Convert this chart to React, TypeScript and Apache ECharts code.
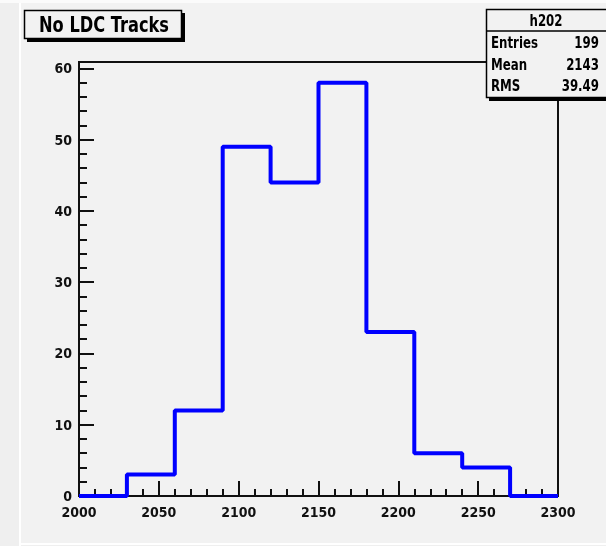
import React, { useEffect, useRef } from "react";
import * as echarts from "echarts";

// Histogram h202: bin lower edges and bin contents
const binLowEdges = [2000, 2030, 2060, 2090, 2120, 2150, 2180, 2210, 2240, 2270];
const binUpperEdge = 2300;
const binCounts = [0, 3, 12, 49, 44, 58, 23, 6, 4, 0];

// Statistics box
const histName = "h202";
const statLabels = ["Entries", "Mean", "RMS"];
const statValues = ["199", "2143", "39.49"];

const titleText = "No LDC Tracks";

const FONT = "'DejaVu Sans Condensed', 'Liberation Sans', sans-serif";
const PAD = "#f2f2f2";

export default function App() {
  const ref = useRef<HTMLDivElement>(null);

  useEffect(() => {
    if (!ref.current) return;
    const chart = echarts.init(ref.current, null, { renderer: "svg" });

    // step line through bin edges: each bin is a flat segment at its count
    const stepData: [number, number][] = binLowEdges.map((x, i) => [x, binCounts[i]]);
    stepData.push([binUpperEdge, binCounts[binCounts.length - 1]]);

    const statRows = statLabels.flatMap((label, i) => [
      {
        type: "text",
        x: 491,
        y: 42 + i * 21.5,
        scaleX: 0.82,
        z: 20,
        style: {
          text: label,
          fill: "#000",
          font: `bold 16px ${FONT}`,
          verticalAlign: "middle",
        },
      },
      {
        type: "text",
        x: 599,
        y: 42 + i * 21.5,
        scaleX: 0.82,
        z: 20,
        style: {
          text: statValues[i],
          fill: "#000",
          font: `bold 16px ${FONT}`,
          align: "right",
          verticalAlign: "middle",
        },
      },
    ]);

    const tickStyle = { color: "#111", width: 2 };

    chart.setOption({
      animation: false,
      backgroundColor: "transparent",
      grid: {
        left: 79,
        top: 62,
        right: 48,
        bottom: 50,
        show: true,
        backgroundColor: PAD,
        borderColor: "#111",
        borderWidth: 2,
      },
      xAxis: {
        type: "value",
        min: 2000,
        max: 2300,
        interval: 50,
        axisLine: { show: true, onZero: false, lineStyle: { color: "#111", width: 2 } },
        axisTick: { show: true, inside: true, length: 15, lineStyle: tickStyle },
        minorTick: { show: true, splitNumber: 5, length: 7, lineStyle: tickStyle },
        splitLine: { show: false },
        axisLabel: {
          color: "#111",
          fontFamily: FONT,
          fontWeight: "bold",
          fontSize: 14,
          margin: 9,
          formatter: (v: number) => String(v),
        },
      },
      yAxis: {
        type: "value",
        min: 0,
        max: 60.9,
        interval: 10,
        axisLine: { show: true, onZero: false, lineStyle: { color: "#111", width: 2 } },
        axisTick: { show: true, inside: true, length: 15, lineStyle: tickStyle },
        minorTick: { show: true, splitNumber: 5, length: 8, lineStyle: tickStyle },
        splitLine: { show: false },
        axisLabel: {
          color: "#111",
          fontFamily: FONT,
          fontWeight: "bold",
          fontSize: 14,
          margin: 7,
          showMaxLabel: false,
          formatter: (v: number) => String(v),
        },
      },
      series: [
        {
          type: "line",
          step: "end",
          data: stepData,
          symbol: "none",
          lineStyle: { color: "#0000ff", width: 4 },
          clip: true,
        },
      ],
      graphic: [
        // canvas surround
        { type: "rect", z: -10, shape: { x: 0, y: 0, width: 606, height: 546 }, style: { fill: "#efefef" } },
        { type: "rect", z: -9, shape: { x: 0, y: 0, width: 606, height: 3 }, style: { fill: "#fbfbfb" } },
        { type: "rect", z: -9, shape: { x: 19, y: 3, width: 2, height: 543 }, style: { fill: "#ffffff" } },
        { type: "rect", z: -9, shape: { x: 21, y: 3, width: 585, height: 540 }, style: { fill: PAD } },
        { type: "rect", z: -9, shape: { x: 21, y: 543, width: 585, height: 2 }, style: { fill: "#ffffff" } },
        // title box with drop shadow
        { type: "rect", z: 10, shape: { x: 27, y: 13, width: 158, height: 29 }, style: { fill: "#000" } },
        {
          type: "rect",
          z: 11,
          shape: { x: 24.5, y: 10.5, width: 157, height: 28 },
          style: { fill: PAD, stroke: "#000", lineWidth: 1.5 },
        },
        {
          type: "text",
          z: 12,
          x: 104,
          y: 25,
          scaleX: 0.86,
          style: {
            text: titleText,
            fill: "#000",
            font: `bold 21px ${FONT}`,
            align: "center",
            verticalAlign: "middle",
          },
        },
        // statistics box with drop shadow
        { type: "rect", z: 10, shape: { x: 489, y: 12, width: 130, height: 89 }, style: { fill: "#000" } },
        {
          type: "rect",
          z: 11,
          shape: { x: 486.5, y: 9.5, width: 130, height: 88 },
          style: { fill: PAD, stroke: "#000", lineWidth: 1.5 },
        },
        {
          type: "line",
          z: 12,
          shape: { x1: 486, y1: 31, x2: 606, y2: 31 },
          style: { stroke: "#000", lineWidth: 1.5 },
        },
        {
          type: "text",
          z: 20,
          x: 546,
          y: 20,
          scaleX: 0.82,
          style: {
            text: histName,
            fill: "#000",
            font: `bold 16px ${FONT}`,
            align: "center",
            verticalAlign: "middle",
          },
        },
        ...statRows,
      ],
    });

    return () => chart.dispose();
  }, []);

  return (
    <div
      ref={ref}
      style={{ position: "fixed", left: 0, top: 0, width: 606, height: 546 }}
    />
  );
}
